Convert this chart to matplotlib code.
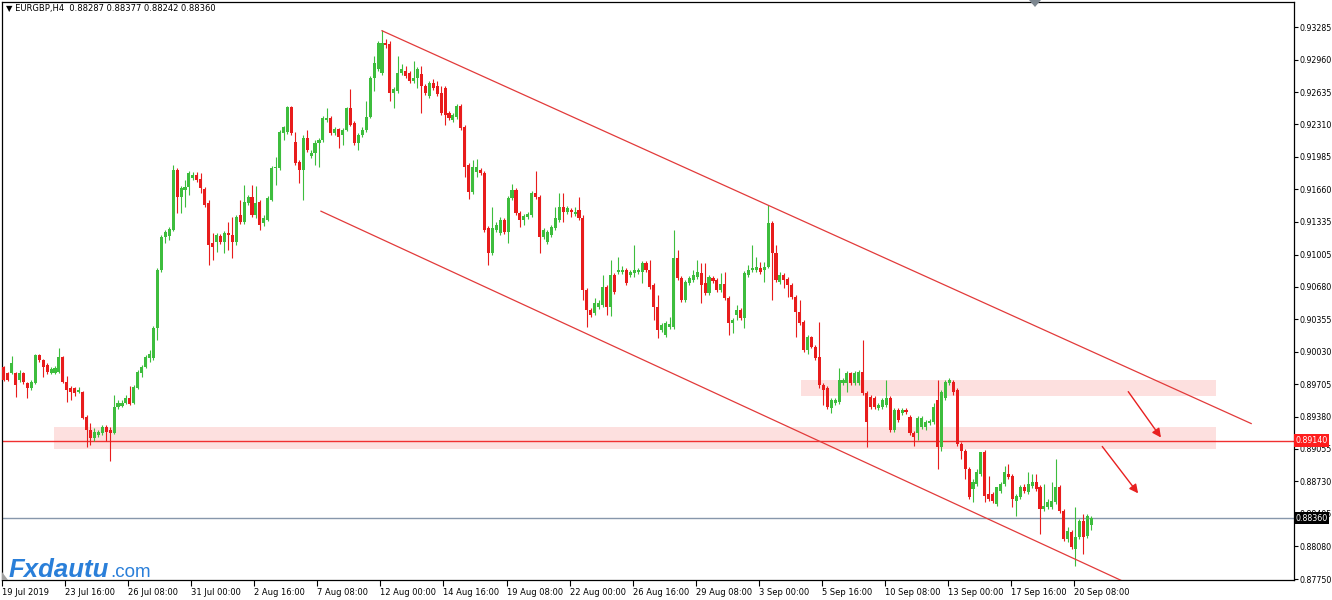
"""EURGBP H4 chart with descending channel, supply zones and target arrows (MT4 screenshot style)."""

import matplotlib

matplotlib.use("Agg")
import matplotlib.pyplot as plt
import matplotlib.transforms as mtransforms
import numpy as np
from matplotlib.patches import Polygon, Rectangle


SYMBOL = "EURGBP,H4"
LAST_OHLC = ["0.88287", "0.88377", "0.88242", "0.88360"]

# H4 candles starting 19 Jul 2019 00:00, prices in units of 0.0001
OPEN = [
    8988, 8982, 8982, 8982, 8975, 8982, 8972, 8967, 8972, 9000,
    8995, 8990, 8982, 8982, 8983, 8998, 8973, 8967, 8967, 8963,
    8963, 8938, 8925, 8917, 8920, 8922, 8928, 8925, 8922, 8948,
    8949, 8952, 8957, 8952, 8967, 8982, 8988, 8997, 8997, 9027,
    9085, 9118, 9119, 9125, 9185, 9158, 9165, 9168, 9177, 9180,
    9176, 9166, 9152, 9112, 9113, 9119, 9113, 9122, 9120, 9113,
    9140, 9133, 9152, 9158, 9140, 9153, 9132, 9135, 9155, 9187,
    9187, 9222, 9223, 9249, 9213, 9193, 9185, 9217, 9199, 9202,
    9212, 9215, 9235, 9237, 9222, 9226, 9220, 9225, 9247, 9232,
    9212, 9220, 9225, 9238, 9278, 9287, 9283, 9313, 9312, 9263,
    9265, 9283, 9285, 9283, 9275, 9278, 9282, 9270, 9260, 9273,
    9270, 9263, 9268, 9242, 9235, 9238, 9250, 9228, 9190, 9163,
    9183, 9185, 9182, 9127, 9102, 9125, 9122, 9135, 9123, 9157,
    9165, 9142, 9135, 9138, 9140, 9162, 9158, 9118, 9113, 9120,
    9127, 9135, 9148, 9143, 9145, 9141, 9145, 9137, 9065, 9045,
    9042, 9048, 9050, 9068, 9048, 9080, 9083, 9083, 9085, 9080,
    9082, 9083, 9083, 9092, 9085, 9070, 9048, 9025, 9020, 9028,
    9028, 9097, 9077, 9055, 9072, 9075, 9078, 9082, 9072, 9062,
    9077, 9075, 9065, 9071, 9057, 9032, 9040, 9045, 9037, 9080,
    9085, 9085, 9087, 9085, 9088, 9132, 9102, 9073, 9080, 9076,
    9070, 9058, 9043, 9033, 9005, 9018, 9008, 8998, 8970, 8967,
    8947, 8952, 8953, 8972, 8972, 8982, 8972, 8972, 8983, 8962,
    8958, 8957, 8947, 8948, 8950, 8957, 8925, 8945, 8942, 8945,
    8938, 8922, 8922, 8928, 8928, 8932, 8933, 8955, 8907, 8957,
    8972, 8973, 8965, 8910, 8903, 8885, 8865, 8870, 8880, 8902,
    8860, 8860, 8850, 8863, 8870, 8880, 8878, 8853, 8857, 8867,
    8862, 8868, 8872, 8867, 8845, 8847, 8847, 8852, 8867, 8843,
    8815, 8822, 8805, 8817, 8833, 8818, 8829,
]
HIGH = [
    8989, 8983, 8999, 8983, 8985, 8983, 8973, 8975, 9001, 9001,
    8996, 8992, 8988, 8989, 9007, 8999, 8979, 8969, 8968, 8968,
    8964, 8940, 8932, 8927, 8925, 8930, 8930, 8928, 8960, 8955,
    8955, 8960, 8969, 8970, 8985, 8990, 9000, 9005, 9029, 9087,
    9120, 9125, 9128, 9190, 9187, 9169, 9175, 9184, 9183, 9183,
    9182, 9168, 9155, 9122, 9122, 9121, 9124, 9133, 9138, 9140,
    9155, 9170, 9160, 9170, 9169, 9155, 9140, 9159, 9189, 9198,
    9225, 9229, 9250, 9250, 9223, 9195, 9220, 9225, 9205, 9215,
    9217, 9239, 9248, 9239, 9228, 9227, 9227, 9249, 9267, 9234,
    9222, 9228, 9255, 9280, 9300, 9315, 9326, 9317, 9315, 9269,
    9300, 9292, 9290, 9285, 9295, 9289, 9290, 9272, 9275, 9277,
    9275, 9270, 9270, 9244, 9242, 9252, 9252, 9230, 9192, 9195,
    9196, 9187, 9184, 9129, 9148, 9133, 9138, 9137, 9159, 9171,
    9167, 9144, 9141, 9143, 9164, 9184, 9160, 9127, 9125, 9130,
    9148, 9162, 9162, 9149, 9147, 9148, 9158, 9140, 9067, 9047,
    9057, 9055, 9080, 9070, 9095, 9082, 9098, 9089, 9087, 9085,
    9110, 9087, 9094, 9094, 9095, 9072, 9060, 9032, 9034, 9038,
    9125, 9105, 9079, 9075, 9079, 9085, 9095, 9092, 9092, 9080,
    9079, 9077, 9082, 9083, 9059, 9037, 9050, 9047, 9084, 9090,
    9110, 9098, 9093, 9093, 9150, 9134, 9110, 9083, 9082, 9078,
    9072, 9060, 9055, 9035, 9020, 9019, 9010, 9033, 8972, 8969,
    8957, 8957, 8987, 8977, 8984, 8983, 8984, 8985, 9015, 8964,
    8960, 8959, 8952, 8957, 8975, 8959, 8947, 8947, 8947, 8947,
    8940, 8924, 8939, 8939, 8935, 8936, 8952, 8975, 8965, 8975,
    8977, 8975, 8967, 8912, 8905, 8887, 8875, 8885, 8902, 8904,
    8878, 8862, 8867, 8872, 8888, 8890, 8880, 8860, 8869, 8870,
    8882, 8880, 8880, 8869, 8870, 8855, 8872, 8895, 8869, 8845,
    8827, 8824, 8847, 8835, 8840, 8840, 8838,
]
LOW = [
    8974, 8974, 8981, 8958, 8973, 8971, 8957, 8965, 8971, 8993,
    8978, 8981, 8981, 8981, 8982, 8972, 8953, 8955, 8959, 8962,
    8936, 8907, 8909, 8914, 8918, 8920, 8913, 8893, 8921, 8946,
    8948, 8951, 8950, 8951, 8966, 8978, 8987, 8993, 8995, 9015,
    9083, 9112, 9115, 9124, 9142, 9142, 9148, 9160, 9175, 9173,
    9162, 9148, 9090, 9095, 9103, 9111, 9102, 9105, 9097, 9110,
    9131, 9131, 9150, 9138, 9137, 9125, 9129, 9134, 9154, 9170,
    9185, 9215, 9221, 9220, 9190, 9172, 9155, 9203, 9197, 9190,
    9188, 9213, 9233, 9220, 9220, 9207, 9210, 9224, 9229, 9210,
    9205, 9218, 9223, 9237, 9265, 9285, 9281, 9308, 9255, 9248,
    9263, 9281, 9278, 9273, 9273, 9268, 9242, 9261, 9258, 9266,
    9260, 9240, 9230, 9235, 9233, 9236, 9225, 9178, 9156, 9161,
    9178, 9180, 9123, 9090, 9100, 9123, 9120, 9121, 9112, 9155,
    9140, 9128, 9130, 9136, 9138, 9156, 9102, 9116, 9111, 9118,
    9125, 9133, 9133, 9141, 9138, 9139, 9135, 9055, 9028, 9038,
    9040, 9046, 9048, 9040, 9039, 9061, 9081, 9081, 9070, 9078,
    9078, 9081, 9072, 9083, 9066, 9035, 9017, 9023, 9018, 9026,
    9026, 9075, 9053, 9053, 9070, 9073, 9076, 9052, 9060, 9060,
    9072, 9063, 9063, 9055, 9020, 9022, 9035, 9035, 9027, 9078,
    9083, 9083, 9081, 9073, 9087, 9055, 9073, 9071, 9067, 9058,
    9056, 9018, 9030, 9003, 9001, 9007, 8995, 8967, 8950, 8946,
    8942, 8950, 8951, 8970, 8963, 8970, 8970, 8970, 8960, 8907,
    8946, 8946, 8945, 8946, 8948, 8923, 8923, 8933, 8940, 8941,
    8920, 8908, 8915, 8926, 8925, 8930, 8931, 8885, 8903, 8955,
    8970, 8960, 8908, 8895, 8875, 8855, 8852, 8868, 8878, 8852,
    8853, 8851, 8848, 8861, 8868, 8875, 8847, 8838, 8855, 8861,
    8860, 8866, 8863, 8820, 8843, 8845, 8845, 8850, 8841, 8813,
    8812, 8805, 8788, 8815, 8800, 8816, 8824,
]
CLOSE = [
    8975, 8975, 8992, 8970, 8982, 8973, 8967, 8973, 9000, 8995,
    8988, 8983, 8986, 8987, 8998, 8973, 8965, 8963, 8962, 8965,
    8937, 8925, 8917, 8923, 8923, 8928, 8923, 8922, 8948, 8952,
    8952, 8957, 8951, 8968, 8983, 8988, 8998, 9001, 9027, 9085,
    9118, 9123, 9126, 9185, 9158, 9167, 9168, 9182, 9180, 9175,
    9167, 9150, 9110, 9108, 9120, 9113, 9122, 9120, 9113, 9138,
    9133, 9153, 9158, 9140, 9152, 9130, 9137, 9157, 9187, 9188,
    9223, 9228, 9249, 9222, 9192, 9185, 9217, 9205, 9202, 9212,
    9215, 9237, 9237, 9222, 9226, 9218, 9225, 9247, 9230, 9212,
    9220, 9225, 9238, 9278, 9293, 9313, 9313, 9311, 9263, 9267,
    9283, 9287, 9280, 9275, 9278, 9287, 9270, 9263, 9273, 9268,
    9262, 9242, 9240, 9237, 9240, 9250, 9227, 9188, 9163, 9188,
    9188, 9182, 9125, 9102, 9127, 9130, 9135, 9123, 9157, 9165,
    9142, 9135, 9139, 9141, 9162, 9158, 9118, 9125, 9123, 9128,
    9137, 9148, 9143, 9147, 9143, 9143, 9137, 9065, 9045, 9040,
    9052, 9052, 9068, 9048, 9080, 9063, 9085, 9085, 9072, 9083,
    9085, 9085, 9092, 9085, 9068, 9048, 9025, 9030, 9032, 9031,
    9097, 9077, 9055, 9073, 9077, 9080, 9083, 9070, 9062, 9078,
    9074, 9065, 9071, 9057, 9032, 9035, 9045, 9037, 9082, 9085,
    9087, 9088, 9083, 9088, 9132, 9102, 9075, 9080, 9075, 9070,
    9058, 9043, 9032, 9005, 9018, 9008, 8997, 8970, 8965, 8948,
    8955, 8955, 8975, 8975, 8982, 8972, 8982, 8983, 8962, 8933,
    8948, 8948, 8950, 8955, 8957, 8925, 8945, 8935, 8945, 8943,
    8922, 8918, 8937, 8937, 8933, 8934, 8948, 8907, 8963, 8973,
    8975, 8963, 8910, 8903, 8885, 8857, 8872, 8882, 8902, 8858,
    8855, 8853, 8867, 8870, 8882, 8877, 8855, 8858, 8867, 8863,
    8870, 8872, 8865, 8845, 8848, 8852, 8853, 8867, 8843, 8815,
    8823, 8807, 8817, 8833, 8817, 8838, 8836,
]

TIME_LABELS = [
    "19 Jul 2019", "23 Jul 16:00", "26 Jul 08:00", "31 Jul 00:00", "2 Aug 16:00",
    "7 Aug 08:00", "12 Aug 00:00", "14 Aug 16:00", "19 Aug 08:00", "22 Aug 00:00",
    "26 Aug 16:00", "29 Aug 08:00", "3 Sep 00:00", "5 Sep 16:00", "10 Sep 08:00",
    "13 Sep 00:00", "17 Sep 16:00", "20 Sep 08:00",
]
BARS_PER_LABEL = 16

PRICE_LABELS = [
    "0.93285", "0.92960", "0.92635", "0.92310", "0.91985", "0.91660", "0.91335",
    "0.91005", "0.90680", "0.90355", "0.90030", "0.89705", "0.89380", "0.89055",
    "0.88730", "0.88405", "0.88080", "0.87750",
]

LEVEL = 0.89140
BID = 0.88360

# zones: (bar from, bar to, price low, price high)
ZONE_LOW = (12.8, 307.7, 0.8905, 0.8928)
ZONE_HIGH = (202.4, 307.7, 0.8959, 0.8975)
CHANNEL_UPPER = ([96.0, 316.6], [0.9325, 0.8931])
CHANNEL_LOWER = ([80.5, 290.0], [0.9144, 0.8762])
ARROWS = [((285.4, 0.8963), (293.7, 0.8917)), ((278.8, 0.8908), (287.9, 0.8861))]

GREEN = "#3dbd3d"
RED = "#e81c1c"
LINE_RED = "#e23a3a"
ZONE_FILL = "#fde0df"

W, H = 1332, 600
PLOT_L, PLOT_R, PLOT_T, PLOT_B = 2, 1294, 2, 580
PX_PER_BAR = 3.94


def main() -> None:
    fig = plt.figure(figsize=(W / 100, H / 100), dpi=100)
    ax = fig.add_axes([PLOT_L / W, 1 - PLOT_B / H, (PLOT_R - PLOT_L) / W, (PLOT_B - PLOT_T) / H])

    o = np.array(OPEN) / 1e4
    h = np.array(HIGH) / 1e4
    l = np.array(LOW) / 1e4
    c = np.array(CLOSE) / 1e4
    x = np.arange(len(o))
    colors = np.where(c >= o, GREEN, RED)

    x0 = -0.45
    ax.set_xlim(x0, x0 + (PLOT_R - PLOT_L) / PX_PER_BAR)
    # 0.89140 sits at y=440.5 px, ~0.997 px per pip
    ppu = 9970.0
    ax.set_ylim(LEVEL - (PLOT_B - 440.5) / ppu, LEVEL + (440.5 - PLOT_T) / ppu)

    for x1, x2, lo, hi in (ZONE_LOW, ZONE_HIGH):
        ax.add_patch(Rectangle((x1, lo), x2 - x1, hi - lo, facecolor=ZONE_FILL, edgecolor="none", zorder=0))

    ax.axhline(LEVEL, color="#f03030", lw=1.0, zorder=1)
    ax.axhline(BID, color="#8797ab", lw=1.0, zorder=1)

    ax.vlines(x, l, h, colors=colors, lw=0.8, zorder=2)
    body_lo = np.minimum(o, c)
    body_h = np.maximum(np.abs(c - o), 0.00008)
    ax.bar(x, body_h, bottom=body_lo, width=0.78, color=colors, linewidth=0, zorder=3)

    ax.plot(*CHANNEL_UPPER, color=LINE_RED, lw=0.9, zorder=4)
    ax.plot(*CHANNEL_LOWER, color=LINE_RED, lw=0.9, zorder=4)
    for start, end in ARROWS:
        ax.annotate("", xy=end, xytext=start,
                    arrowprops=dict(arrowstyle="-|>", color="#e82020", lw=1.0, mutation_scale=13,
                                    shrinkA=0, shrinkB=0), zorder=5)

    # time axis
    tick_bars = np.arange(len(TIME_LABELS)) * BARS_PER_LABEL - 0.4
    ax.set_xticks(tick_bars)
    ax.set_xticklabels(TIME_LABELS, fontsize=6, ha="left")
    ax.tick_params(axis="x", length=4, width=0.8, pad=1.5, direction="out")

    # price axis
    ax.yaxis.tick_right()
    ax.set_yticks([float(p) for p in PRICE_LABELS])
    ax.set_yticklabels(PRICE_LABELS, fontsize=5.7)
    ax.tick_params(axis="y", length=3, width=0.8, pad=1.2, direction="out")

    for side in ax.spines.values():
        side.set_color("black")
        side.set_linewidth(0.9)

    trans = mtransforms.blended_transform_factory(ax.transAxes, ax.transData)
    for price, label, face in ((LEVEL, "0.89140", "#ff1d1d"), (BID, "0.88360", "#000000")):
        ax.text(1.0012, price, label, transform=trans, fontsize=5.7, color="white", ha="left", va="center",
                bbox=dict(boxstyle="square,pad=0.2", fc=face, ec="none"), clip_on=False, zorder=10)

    fig.text(6 / W, 1 - 9 / H, "\u25bc " + SYMBOL + "  " + " ".join(LAST_OHLC),
             fontsize=6, color="black", ha="left", va="center")

    fig.text(9 / W, 1 - 577 / H, "Fxdautu", fontsize=18.5, fontweight="bold", fontstyle="italic",
             family="Liberation Sans", color="#2a7fd9", ha="left", va="baseline")
    fig.text(110 / W, 1 - 577 / H, ".com", fontsize=13.5, family="Liberation Sans",
             color="#2a7fd9", ha="left", va="baseline")

    # chart-shift marker at the top and corner marker at the bottom left
    tri = np.array([[1029, 0], [1041, 0], [1035, 7]])
    fig.add_artist(Polygon(np.column_stack([tri[:, 0] / W, 1 - tri[:, 1] / H]), closed=True,
                           transform=fig.transFigure, fc="#7d8790", ec="none", zorder=20))
    corner = np.array([[2, 572], [2, 580], [8, 580]])
    fig.add_artist(Polygon(np.column_stack([corner[:, 0] / W, 1 - corner[:, 1] / H]), closed=True,
                           transform=fig.transFigure, fc="#a0a0a0", ec="none"))

    fig.savefig("out.png", dpi=100, facecolor="white")
    plt.close(fig)


if __name__ == "__main__":
    main()
